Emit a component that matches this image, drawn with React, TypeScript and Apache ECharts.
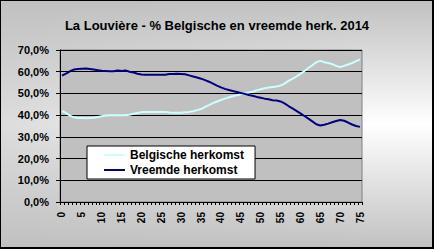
import React, { useEffect, useRef } from "react";
import * as echarts from "echarts";

const titleText = "La Louvière - % Belgische en vreemde herk. 2014";
const ages: string[] = Array.from({ length: 76 }, (_, i) => String(i));
const seriesNames = ["Belgische herkomst", "Vreemde herkomst"];
const belgisch = [
  41.9, 41.0, 39.8, 39.0, 38.7, 38.7, 38.6, 38.7, 38.8, 39.1,
  39.5, 39.8, 39.9, 39.9, 39.9, 39.9, 40.0, 40.2, 40.6, 41.0,
  41.4, 41.5, 41.5, 41.5, 41.5, 41.5, 41.5, 41.2, 41.1, 41.1,
  41.1, 41.3, 41.5, 41.8, 42.3, 42.8, 43.8, 44.6, 45.5, 46.3,
  47.0, 47.6, 48.2, 48.7, 49.2, 49.6, 50.0, 50.4, 50.8, 51.4,
  51.9, 52.4, 52.7, 53.0, 53.2, 53.6, 54.5, 55.8, 56.7, 57.8,
  59.0, 60.3, 61.7, 63.0, 64.4, 65.0, 64.4, 64.0, 63.5, 62.7,
  62.1, 62.7, 63.3, 64.0, 64.9, 65.7,
];
const vreemd = [
  58.2, 59.1, 60.2, 61.0, 61.3, 61.4, 61.5, 61.3, 61.0, 60.7,
  60.4, 60.3, 60.2, 60.2, 60.6, 60.3, 60.6, 60.0, 59.6, 59.1,
  58.7, 58.6, 58.6, 58.6, 58.6, 58.6, 58.6, 58.9, 59.0, 59.1,
  59.0, 58.8, 58.3, 57.8, 57.3, 56.8, 56.1, 55.4, 54.5, 53.6,
  52.8, 52.1, 51.6, 51.1, 50.7, 50.2, 49.8, 49.3, 48.9, 48.4,
  48.0, 47.6, 47.3, 46.9, 46.7, 46.3, 45.4, 44.2, 43.1, 42.0,
  40.8, 39.6, 38.4, 37.1, 35.8, 35.2, 35.6, 36.1, 36.7, 37.3,
  37.8, 37.4, 36.6, 35.7, 35.0, 34.6,
];
const yMin = 0;
const yMax = 70;
const yStep = 10;

const FONT = "'Liberation Sans', Arial, sans-serif";

export default function App() {
  const ref = useRef<HTMLDivElement>(null);
  useEffect(() => {
    if (!ref.current) return;
    const chart = echarts.init(ref.current, undefined, { renderer: "svg" });
    chart.setOption({
      animation: false,
      backgroundColor: "transparent",
      title: {
        text: titleText,
        left: "center",
        top: 14,
        textStyle: { fontFamily: FONT, fontSize: 13, fontWeight: "bold", color: "#000" },
      },
      grid: {
        left: 60,
        top: 50,
        right: 72,
        bottom: 47,
        show: true,
        backgroundColor: "#c0c0c0",
        borderColor: "#808080",
        borderWidth: 1,
      },
      legend: {
        orient: "vertical",
        left: 87,
        top: 146,
        data: seriesNames,
        icon: "rect",
        backgroundColor: "#ffffff",
        borderColor: "#000",
        borderWidth: 1,
        borderRadius: 0,
        padding: [3, 11, 3, 17],
        itemWidth: 21,
        itemHeight: 2,
        itemGap: 3,
        textStyle: { fontFamily: FONT, fontSize: 12, fontWeight: "bold", color: "#000" },
      },
      xAxis: {
        type: "category",
        data: ages,
        boundaryGap: true,
        axisLine: { lineStyle: { color: "#000", width: 1 } },
        axisTick: { show: true, interval: 0, length: 3, lineStyle: { color: "#000" } },
        axisLabel: {
          interval: 4,
          rotate: 90,
          margin: 10,
          fontFamily: FONT,
          fontSize: 10,
          fontWeight: "bold",
          color: "#000",
        },
        splitLine: { show: false },
      },
      yAxis: {
        type: "value",
        min: yMin,
        max: yMax,
        interval: yStep,
        axisLine: { show: true, lineStyle: { color: "#000", width: 1 } },
        axisTick: { show: true, length: 4, lineStyle: { color: "#000" } },
        axisLabel: {
          margin: 11,
          fontFamily: FONT,
          fontSize: 11,
          fontWeight: "bold",
          color: "#000",
          formatter: (v: number) => v.toFixed(1).replace(".", ",") + "%",
        },
        splitLine: { show: true, lineStyle: { color: "#000", width: 1 } },
      },
      series: [
        {
          name: seriesNames[0],
          type: "line",
          data: belgisch,
          symbol: "none",
          lineStyle: { color: "#ccffff", width: 2 },
          itemStyle: { color: "#ccffff" },
        },
        {
          name: seriesNames[1],
          type: "line",
          data: vreemd,
          symbol: "none",
          lineStyle: { color: "#000080", width: 2 },
          itemStyle: { color: "#000080" },
        },
      ],
    });
    return () => chart.dispose();
  }, []);
  return (
    <div
      style={{
        position: "fixed",
        left: 0,
        top: 0,
        width: 434,
        height: 249,
        background:
          "linear-gradient(to right, rgba(192,192,192,0.55), rgba(192,192,192,0) 85%), linear-gradient(to bottom, #c0c0c0, #ffffff 50%, #c0c0c0)",
      }}
    >
      <div ref={ref} style={{ position: "absolute", left: 0, top: 0, width: 434, height: 249 }} />
      <div
        style={{
          position: "absolute",
          left: 0,
          top: 0,
          width: 434,
          height: 249,
          boxSizing: "border-box",
          borderTop: "1px solid #000",
          borderLeft: "1px solid #000",
          borderRight: "2px solid #000",
          borderBottom: "2px solid #000",
          pointerEvents: "none",
        }}
      />
    </div>
  );
}
